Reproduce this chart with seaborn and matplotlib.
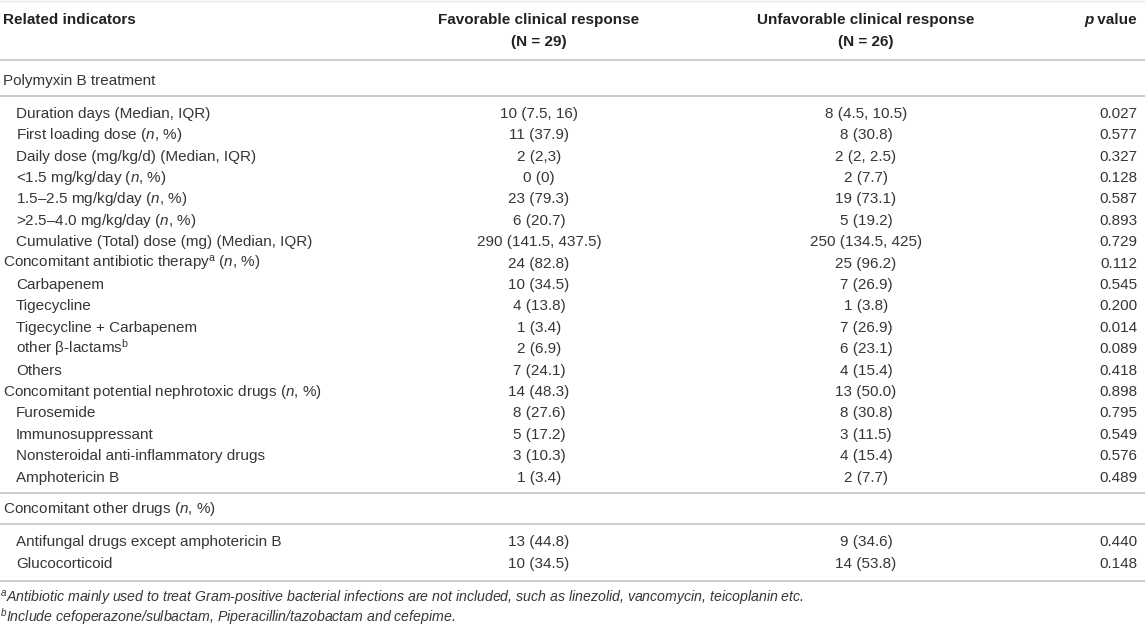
import seaborn as sns
import matplotlib.pyplot as plt

sns.set_theme(style="white")
plt.rcParams['font.family'] = ['Liberation Sans', 'DejaVu Sans']
plt.rcParams['mathtext.fontset'] = 'custom'
plt.rcParams['mathtext.rm'] = 'Liberation Sans'
plt.rcParams['mathtext.it'] = 'Liberation Sans:italic'
plt.rcParams['mathtext.bf'] = 'Liberation Sans:bold'

# table content
col_headers = [("Favorable clinical response", "(N = 29)"),
               ("Unfavorable clinical response", "(N = 26)")]

section1 = "Polymyxin B treatment"
labels1 = ["Duration days (Median, IQR)",
           "First loading dose ($n$, %)",
           "Daily dose (mg/kg/d) (Median, IQR)",
           "<1.5 mg/kg/day ($n$, %)",
           "1.5–2.5 mg/kg/day ($n$, %)",
           ">2.5–4.0 mg/kg/day ($n$, %)",
           "Cumulative (Total) dose (mg) (Median, IQR)",
           "Concomitant antibiotic therapy$^{\\mathrm{a}}$ ($n$, %)",
           "Carbapenem",
           "Tigecycline",
           "Tigecycline + Carbapenem",
           "other β-lactams$^{\\mathrm{b}}$",
           "Others",
           "Concomitant potential nephrotoxic drugs ($n$, %)",
           "Furosemide",
           "Immunosuppressant",
           "Nonsteroidal anti-inflammatory drugs",
           "Amphotericin B"]
indent1 = [1, 1, 1, 1, 1, 1, 1, 0, 1, 1, 1, 1, 1, 0, 1, 1, 1, 1]
fav1 = ["10 (7.5, 16)", "11 (37.9)", "2 (2,3)", "0 (0)", "23 (79.3)", "6 (20.7)",
        "290 (141.5, 437.5)", "24 (82.8)", "10 (34.5)", "4 (13.8)", "1 (3.4)",
        "2 (6.9)", "7 (24.1)", "14 (48.3)", "8 (27.6)", "5 (17.2)", "3 (10.3)",
        "1 (3.4)"]
unfav1 = ["8 (4.5, 10.5)", "8 (30.8)", "2 (2, 2.5)", "2 (7.7)", "19 (73.1)",
          "5 (19.2)", "250 (134.5, 425)", "25 (96.2)", "7 (26.9)", "1 (3.8)",
          "7 (26.9)", "6 (23.1)", "4 (15.4)", "13 (50.0)", "8 (30.8)", "3 (11.5)",
          "4 (15.4)", "2 (7.7)"]
pval1 = ["0.027", "0.577", "0.327", "0.128", "0.587", "0.893", "0.729", "0.112",
         "0.545", "0.200", "0.014", "0.089", "0.418", "0.898", "0.795", "0.549",
         "0.576", "0.489"]

section2 = "Concomitant other drugs ($n$, %)"
labels2 = ["Antifungal drugs except amphotericin B", "Glucocorticoid"]
fav2 = ["13 (44.8)", "10 (34.5)"]
unfav2 = ["9 (34.6)", "14 (53.8)"]
pval2 = ["0.440", "0.148"]

footnotes = ["$^{a}$Antibiotic mainly used to treat Gram-positive bacterial infections are not included, such as linezolid, vancomycin, teicoplanin etc.",
             "$^{b}$Include cefoperazone/sulbactam, Piperacillin/tazobactam and cefepime."]

# layout
W, H = 1145, 626
x_left, x_ind = 3, 16
x_fav, x_unfav, x_p = 539, 866, 1137
row_h = 21.4
txt = "#363636"
head_c = "#222222"
line_c = "#c9c9c9"
fs = 11

fig = plt.figure(figsize=(W / 100, H / 100), dpi=100)
ax = fig.add_axes([0, 0, 1, 1])
ax.set_xlim(0, W)
ax.set_ylim(H, 0)
ax.axis("off")


def hline(y, c=line_c, lw=1.3):
    ax.plot([0, W], [y, y], color=c, lw=lw, solid_capstyle="butt")


def put(x, y, s, ha="left", **kw):
    # y is the row centre, text sits on its baseline
    ax.text(x, y + 5.3, s, ha=ha, va="baseline", fontsize=fs, color=txt, **kw)


# header
hline(1, c="#e6e6e6", lw=1)
ax.text(x_left, 19 + 5.3, "Related indicators", fontsize=fs, fontweight="bold",
        color=head_c, va="baseline")
for xc, (h1, h2) in zip([x_fav, x_unfav], col_headers):
    ax.text(xc, 19 + 5.3, h1, ha="center", va="baseline", fontsize=fs,
            fontweight="bold", color=head_c)
    ax.text(xc, 41 + 5.3, h2, ha="center", va="baseline", fontsize=fs,
            fontweight="bold", color=head_c)
pv = ax.text(x_p, 19 + 5.3, " value", ha="right", va="baseline", fontsize=fs,
             fontweight="bold", color=head_c)
ax.annotate("p", xy=(0, 0), xycoords=pv, ha="right", va="bottom", fontsize=fs,
            fontweight="bold", fontstyle="italic", color=head_c,
            annotation_clip=False)
hline(60)

# first section
put(x_left, 80, section1)
hline(96)
y0 = 112.5
for i, (lab, ind, f, u, p) in enumerate(zip(labels1, indent1, fav1, unfav1, pval1)):
    y = y0 + i * row_h
    put(x_ind if ind else x_left, y, lab)
    put(x_fav, y, f, ha="center")
    put(x_unfav, y, u, ha="center")
    put(x_p, y, p, ha="right")

# second section
hline(493)
put(x_left, 508, section2)
hline(524)
y0 = 541
for i, (lab, f, u, p) in enumerate(zip(labels2, fav2, unfav2, pval2)):
    y = y0 + i * row_h
    put(x_ind, y, lab)
    put(x_fav, y, f, ha="center")
    put(x_unfav, y, u, ha="center")
    put(x_p, y, p, ha="right")
hline(581)

# footnotes
for i, s in enumerate(footnotes):
    ax.text(0, 598 + i * 19 + 4.8, s, fontsize=10.2, fontstyle="italic",
            color=txt, va="baseline")

fig.savefig("out.png", dpi=100)
